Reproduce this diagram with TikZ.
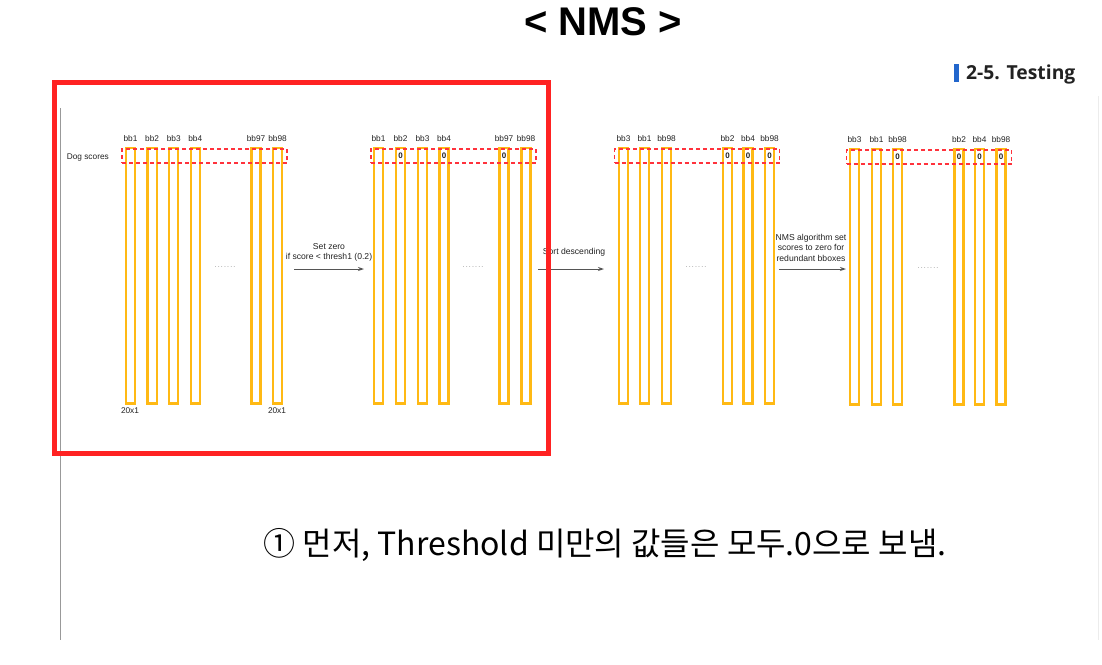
\documentclass[tikz,border=0pt]{standalone}
\usepackage{fontspec}
\setmainfont{Liberation Sans}
\newfontfamily\krfont{Noto Sans CJK KR}
\newfontfamily\secfont{Open Sans}
\usetikzlibrary{arrows.meta}
\definecolor{barc}{RGB}{255,185,20}
\definecolor{dashc}{RGB}{255,50,60}
\definecolor{framec}{RGB}{255,34,34}
\definecolor{arrowc}{RGB}{85,85,85}
\definecolor{txt}{RGB}{34,34,34}
\definecolor{blueb}{RGB}{34,102,204}
\tikzset{
  bar/.style={draw=barc, line width=2.3pt, minimum width=9.2pt, minimum height=255.7pt, anchor=north, inner sep=0pt},
  lbl/.style={font=\fontsize{8.3}{9}\selectfont, text=txt, inner sep=0pt},
  zero/.style={font=\bfseries\fontsize{8}{9}\selectfont, text=txt, inner sep=0pt},
  scorebox/.style={draw=dashc, line width=1.3pt, dash pattern=on 4pt off 3pt, minimum width=165pt, minimum height=14pt, inner sep=0pt},
  flow/.style={-{Stealth[length=6pt,width=4pt]}, draw=arrowc, line width=1pt},
  dotsl/.style={font=\fontsize{7}{7}\selectfont, text=gray, inner sep=0pt},
  flowtext/.style={font=\fontsize{8.6}{10.5}\selectfont, text=txt, align=center, inner sep=0pt}
}
\begin{document}
\begin{tikzpicture}[x=1pt,y=-1pt]
\useasboundingbox (0,0) rectangle (1102,664);
% page lines
\draw[gray!80, line width=1pt] (60,108) -- (60,640);
\draw[gray!15, line width=1pt] (1098,96) -- (1098,640);
% title
\node[font=\bfseries\fontsize{40}{44}\selectfont, inner sep=0pt] (title) at (603,22) {< NMS >};
\fill[blueb] (954,64) rectangle (959,82);
\node[font=\secfont\bfseries\fontsize{19.3}{22}\selectfont, text=txt, anchor=west, inner sep=0pt] (sect) at (966,74) {2-5. Testing};
% group 1
\foreach \i/\dx/\nm/\z in {1/0/bb1/0, 2/21.6/bb2/0, 3/43.2/bb3/0, 4/64.8/bb4/0, 5/125.5/bb97/0, 6/147.1/bb98/0}{
  \node[bar] (ga\i) at (130.5+\dx,146.5) {};
  \node[lbl] (gal\i) at (130.5+\dx,138.5) {\nm};
}
\node[scorebox] (s1) at (204.5,156) {};
\node[lbl, anchor=east] (dog) at (109,157.5) {Dog scores};
\node[dotsl] (d1) at (225,267) {.\,.\,.\,.\,.\,.\,.};
\node[lbl] (dim1) at (130,410.5) {20x1};
\node[lbl] (dim2) at (277,410.5) {20x1};
% group 2
\foreach \i/\dx/\nm/\z in {1/0/bb1/0, 2/22/bb2/1, 3/44/bb3/0, 4/65.5/bb4/1, 5/125.5/bb97/1, 6/147.5/bb98/0}{
  \node[bar] (gb\i) at (378.5+\dx,146.5) {};
  \node[lbl] (gbl\i) at (378.5+\dx,138.5) {\nm};
  \ifnum\z=1 \node[zero] at (378.5+\dx,155.5) {0}; \fi
}
\node[scorebox] (s2) at (453.5,156) {};
\node[dotsl] (d2) at (473,267) {.\,.\,.\,.\,.\,.\,.};
% group 3
\foreach \i/\dx/\nm/\z in {1/0/bb3/0, 2/21/bb1/0, 3/43/bb98/0, 4/104/bb2/1, 5/124.5/bb4/1, 6/146/bb98/1}{
  \node[bar] (gc\i) at (623.5+\dx,146.5) {};
  \node[lbl] (gcl\i) at (623.5+\dx,138.5) {\nm};
  \ifnum\z=1 \node[zero] at (623.5+\dx,155.5) {0}; \fi
}
\node[scorebox] (s3) at (697,156) {};
\node[dotsl] (d3) at (696,267) {.\,.\,.\,.\,.\,.\,.};
% group 4
\foreach \i/\dx/\nm/\z in {1/0/bb3/0, 2/22/bb1/0, 3/43/bb98/1, 4/104.5/bb2/1, 5/125/bb4/1, 6/146.5/bb98/1}{
  \node[bar] (gd\i) at (854.5+\dx,147.5) {};
  \node[lbl] (gdl\i) at (854.5+\dx,139.5) {\nm};
  \ifnum\z=1 \node[zero] at (854.5+\dx,157) {0}; \fi
}
\node[scorebox] (s4) at (929,157) {};
\node[dotsl] (d4) at (928,268) {.\,.\,.\,.\,.\,.\,.};
% arrows
\coordinate (a1s) at (294,269); \coordinate (a1e) at (364,269);
\draw[flow] (a1s) -- (a1e);
\node[flowtext] (t1) at (329,252.5) {Set zero\\if score < thresh1 (0.2)};
\coordinate (a2s) at (538,269); \coordinate (a2e) at (604,269);
\draw[flow] (a2s) -- (a2e);
\node[flowtext] (t2) at (574,252) {Sort descending};
\coordinate (a3s) at (779,269); \coordinate (a3e) at (846,269);
\draw[flow] (a3s) -- (a3e);
\node[flowtext] (t3) at (811,247.5) {NMS algorithm set\\scores to zero for\\redundant bboxes};
% red highlight frame
\draw[framec, line width=5pt] (54.5,82.5) rectangle (548.5,453.5);
% caption
\node[font=\krfont\fontsize{32}{35}\selectfont, inner sep=0pt] (cap) at (605,545) {① 먼저, Threshold 미만의 값들은 모두.0으로 보냄.};
\end{tikzpicture}
\end{document}
